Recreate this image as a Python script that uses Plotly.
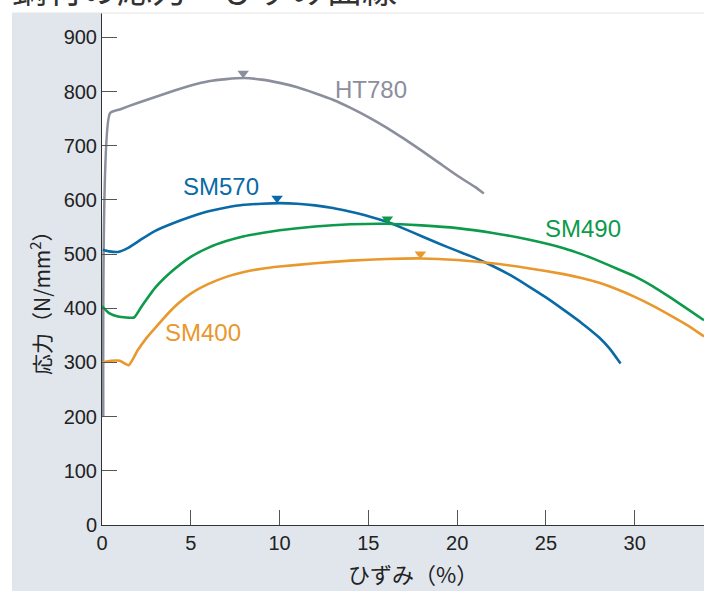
import plotly.graph_objects as go

# ---- data ----
ht780_x = [0.07, 0.45, 1.0, 2.0, 3.0, 4.0, 5.0, 6.0, 7.0, 8.0, 9.0, 10.0, 11.0, 12.0, 13.0, 14.0, 15.0, 16.0, 17.0, 18.0, 19.0, 20.0, 21.0, 21.5]
ht780_y = [200, 760, 767, 779, 790, 801, 811, 819, 823, 825, 822, 816, 808, 797, 785, 770, 753, 734, 713, 691, 668, 645, 624, 612]

sm570_x = [0.05, 0.4, 0.9, 1.5, 2.2, 3.0, 4.0, 5.0, 6.0, 7.0, 8.0, 9.0, 10.0, 11.0, 12.0, 13.0, 14.0, 15.0, 16.0, 17.0, 18.0, 19.0, 20.0, 21.0, 22.0, 23.0, 24.0, 25.0, 26.0, 27.0, 28.0, 28.6, 29.2]
sm570_y = [508, 505, 504, 512, 527, 543, 557, 569, 579, 586, 591, 593, 594, 593, 590, 585, 578, 570, 560, 547, 533, 519, 506, 493, 478, 461, 441, 420, 397, 373, 346, 325, 298]

sm490_x = [0.0, 0.4, 0.9, 1.8, 2.2, 3.0, 4.0, 5.0, 6.0, 7.0, 8.0, 9.0, 10.0, 12.0, 14.0, 16.0, 18.0, 20.0, 22.0, 24.0, 26.0, 27.0, 28.0, 29.0, 30.0, 31.0, 32.0, 33.0, 33.9]
sm490_y = [404, 391, 385, 383, 402, 438, 470, 495, 512, 524, 533, 539, 544, 551, 555, 556, 553, 548, 539, 527, 511, 500, 487, 473, 459, 441, 420, 398, 378]

sm400_x = [0.0, 0.5, 1.0, 1.5, 2.0, 2.5, 3.0, 4.0, 5.0, 6.0, 7.0, 8.0, 9.0, 10.0, 12.0, 14.0, 16.0, 18.0, 20.0, 22.0, 24.0, 26.0, 27.0, 28.0, 29.0, 30.0, 31.0, 32.0, 33.0, 33.9]
sm400_y = [300, 303, 303, 295, 322, 345, 364, 400, 427, 445, 458, 467, 473, 477, 483, 488, 491, 492, 489, 483, 474, 463, 456, 447, 435, 421, 405, 387, 368, 348]

series_names = ["HT780", "SM570", "SM490", "SM400"]
series_colors = ["#8b8e9c", "#0a6aa6", "#0d9a4a", "#e8982c"]

# peak markers (tensile strength)
peak_x = [7.95, 9.86, 16.07, 17.93]
peak_y = [834, 603, 565, 500]

# series labels
label_x = [15.16, 6.7, 27.06, 5.7]
label_y = [803, 624, 548, 356]

x_ticks = [0, 5, 10, 15, 20, 25, 30]
y_ticks = [0, 100, 200, 300, 400, 500, 600, 700, 800, 900]

chart_title = "鋼材の応力－ひずみ曲線"
x_title = "ひずみ（%）"
y_title = "応力（N/mm<sup>2</sup>）"

# ---- figure ----
fig = go.Figure()
xs = [ht780_x, sm570_x, sm490_x, sm400_x]
ys = [ht780_y, sm570_y, sm490_y, sm400_y]
for name, col, x, y in zip(series_names, series_colors, xs, ys):
    fig.add_trace(go.Scatter(x=x, y=y, mode="lines", name=name,
                             line=dict(color=col, width=2.6, shape="spline", smoothing=0.5),
                             showlegend=False, hoverinfo="skip"))

fig.add_trace(go.Scatter(x=peak_x, y=peak_y, mode="markers",
                         marker=dict(symbol="triangle-down", size=10, color=series_colors),
                         showlegend=False, hoverinfo="skip"))

for name, col, lx, ly in zip(series_names, series_colors, label_x, label_y):
    fig.add_annotation(x=lx, y=ly, text=name, showarrow=False,
                       font=dict(family="Liberation Sans, Arial", size=24, color=col),
                       xanchor="center", yanchor="middle")

W, H = 704, 591
ml, mr, mt, mb = 102, 0, 13, 66
pw, ph = W - ml - mr, H - mt - mb
panel_left = 12
px0 = (panel_left - ml) / pw
py0 = -mb / ph

# gray panel around the plot area
fig.add_shape(type="rect", xref="paper", yref="paper", x0=px0, x1=0, y0=py0, y1=1,
              fillcolor="#e1e6ed", line=dict(width=0), layer="below")
fig.add_shape(type="rect", xref="paper", yref="paper", x0=0, x1=1, y0=py0, y1=0,
              fillcolor="#e1e6ed", line=dict(width=0), layer="below")
fig.add_shape(type="line", xref="paper", yref="paper", x0=px0, x1=1, y0=1, y1=1,
              line=dict(color="#e4e4e4", width=1))

# page title, cut off by the top edge as in the reference
fig.add_annotation(xref="paper", yref="paper", x=(10 - ml) / pw, y=(525 - 15) / ph,
                   text=chart_title, showarrow=False, xanchor="left", yanchor="bottom",
                   font=dict(family="Noto Sans CJK JP", size=35, color="#333"))

# axis titles as annotations (positioned like the reference)
fig.add_annotation(xref="paper", yref="paper", x=(413 - ml) / pw, y=(525 - 573) / ph,
                   text=x_title, showarrow=False, xanchor="center", yanchor="middle",
                   font=dict(family="Noto Sans CJK JP", size=22, color="#222"))
fig.add_annotation(xref="paper", yref="paper", x=(40 - ml) / pw, y=(525 - 298) / ph,
                   text=y_title, showarrow=False, textangle=-90,
                   xanchor="center", yanchor="middle",
                   font=dict(family="Noto Sans CJK JP", size=21, color="#222"))

fig.update_xaxes(range=[0, 33.9], tickvals=x_ticks, ticks="inside", ticklen=15,
                 tickcolor="#555", tickwidth=1, showline=True, linecolor="#333",
                 linewidth=1, showgrid=False, zeroline=False,
                 tickfont=dict(family="Liberation Sans, Arial", size=20, color="#222"))
fig.update_yaxes(range=[0, 945], tickvals=y_ticks, ticks="inside", ticklen=15,
                 tickcolor="#555", tickwidth=1, showline=True, linecolor="#333",
                 linewidth=1, showgrid=False, zeroline=False,
                 tickfont=dict(family="Liberation Sans, Arial", size=20, color="#222"))

fig.update_layout(width=W, height=H, margin=dict(l=ml, r=mr, t=mt, b=mb),
                  paper_bgcolor="white", plot_bgcolor="white")

fig.write_html("out.html", config={"displayModeBar": False},
               post_script="document.body.style.margin='0';document.body.style.overflow='hidden';")
